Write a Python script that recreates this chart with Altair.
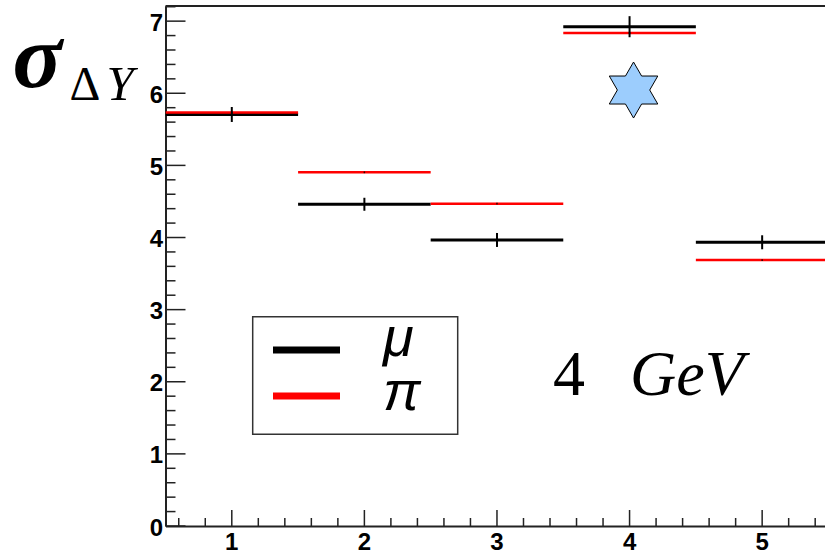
import math
import numpy as np
import pandas as pd
import altair as alt

# ---- data -------------------------------------------------------------
bin_lo = [0.5, 1.5, 2.5, 3.5, 4.5]
bin_hi = [1.5, 2.5, 3.5, 4.5, 5.5]
bin_center = [1, 2, 3, 4, 5]
mu_vals = [5.706, 4.461, 3.966, 6.923, 3.934]
mu_errs = [0.104, 0.090, 0.097, 0.146, 0.097]
pi_vals = [5.733, 4.904, 4.469, 6.836, 3.688]
pi_errs = [0.012, 0.012, 0.012, 0.012, 0.012]

series_names = ["μ", "π"]
series_colors = ["#000000", "#ff0000"]

star_x = [4.03]
star_y = [6.045]

x_tick_labels = [1, 2, 3, 4, 5]
y_tick_labels = [0, 1, 2, 3, 4, 5, 6, 7]

# ---- geometry ----------------------------------------------------------
W, H = 659.5, 520
X_DOM = [0.5, 5.474]
Y_DOM = [0, 7.21]

hist = pd.DataFrame({
    "lo": bin_lo, "hi": bin_hi, "c": bin_center,
    "mu": mu_vals, "mu_lo": [v - e for v, e in zip(mu_vals, mu_errs)],
    "mu_hi": [v + e for v, e in zip(mu_vals, mu_errs)],
    "pi": pi_vals, "pi_lo": [v - e for v, e in zip(pi_vals, pi_errs)],
    "pi_hi": [v + e for v, e in zip(pi_vals, pi_errs)],
})

AX_FONT = "Liberation Sans"
LBL_SIZE = 24
x_scale = alt.Scale(domain=X_DOM, nice=False, zero=False)
y_scale = alt.Scale(domain=Y_DOM, nice=False, zero=False)
x_axis = alt.Axis(values=x_tick_labels, title=None, grid=False, ticks=False,
                  labels=False, domainColor="#222222", domainWidth=2)
y_axis = alt.Axis(values=y_tick_labels, title=None, grid=False, ticks=False,
                  labels=False, domainColor="#222222", domainWidth=2)


def xq(field):
    return alt.X(field, type="quantitative", scale=x_scale, axis=x_axis)


def yq(field):
    return alt.Y(field, type="quantitative", scale=y_scale, axis=y_axis)


one = alt.Data(values=[{"k": 0}])

# histogram steps
mu_steps = alt.Chart(hist).mark_rule(color=series_colors[0], strokeWidth=3, clip=True).encode(
    x=xq("lo"), x2="hi", y=yq("mu"))
pi_steps = alt.Chart(hist).mark_rule(color=series_colors[1], strokeWidth=2.5, clip=True).encode(
    x=xq("lo"), x2="hi", y=yq("pi"))
pi_err = alt.Chart(hist).mark_rule(color="#300000", strokeWidth=1.5).encode(
    x=xq("c"), y=yq("pi_lo"), y2="pi_hi")
mu_err = alt.Chart(hist).mark_rule(color="black", strokeWidth=2).encode(
    x=xq("c"), y=yq("mu_lo"), y2="mu_hi")

# inward ticks
yt = np.round(np.arange(0, Y_DOM[1] + 1e-9, 0.2), 1)
y_major = pd.DataFrame({"v": [v for v in yt if abs(v - round(v)) < 1e-6]})
y_minor = pd.DataFrame({"v": [v for v in yt if abs(v - round(v)) > 1e-6]})
xt = np.round(np.arange(0.6, X_DOM[1], 0.2), 1)
x_major = pd.DataFrame({"v": [v for v in xt if abs(v - round(v)) < 1e-6]})
x_minor = pd.DataFrame({"v": [v for v in xt if abs(v - round(v)) > 1e-6]})

tick_style = dict(color="#222222", strokeWidth=1.5)
ticks = [
    alt.Chart(y_major).mark_rule(**tick_style).encode(y=yq("v"), x=alt.value(0), x2=alt.value(20)),
    alt.Chart(y_minor).mark_rule(**tick_style).encode(y=yq("v"), x=alt.value(0), x2=alt.value(10)),
    alt.Chart(x_major).mark_rule(**tick_style).encode(x=xq("v"), y=alt.value(H), y2=alt.value(H - 16)),
    alt.Chart(x_minor).mark_rule(**tick_style).encode(x=xq("v"), y=alt.value(H), y2=alt.value(H - 8)),
]

# tick labels
lbl_style = dict(font=AX_FONT, fontSize=LBL_SIZE, fontWeight="bold", color="black",
                 baseline="alphabetic")
tick_labels = [
    alt.Chart(pd.DataFrame({"v": y_tick_labels})).mark_text(align="right", dy=9.5, **lbl_style).encode(
        y=yq("v"), x=alt.value(-2.5), text=alt.Text("v:Q", format="d")),
    alt.Chart(pd.DataFrame({"v": x_tick_labels})).mark_text(align="center", **lbl_style).encode(
        x=xq("v"), y=alt.value(H + 23.5), text=alt.Text("v:Q", format="d")),
]

# top frame line
frame_top = alt.Chart(one).mark_rule(color="#222222", strokeWidth=2).encode(
    x=alt.value(0), x2=alt.value(W), y=alt.value(0))

# six-pointed star marker
pts = []
for i in range(12):
    r = 1.0 if i % 2 == 0 else 1 / math.sqrt(3)
    a = math.radians(30 * i)
    pts.append(f"{r * math.sin(a):.4f},{-r * math.cos(a):.4f}")
star_path = "M" + " L".join(pts) + " Z"
star = alt.Chart(pd.DataFrame({"x": star_x, "y": star_y})).mark_point(
    shape=star_path, size=3136, filled=True, fill="#9ccdfd", stroke="black",
    strokeWidth=1, opacity=1).encode(x=xq("x"), y=yq("y"))

# legend box
legend = [
    alt.Chart(one).mark_rect(fill="white", stroke="#333333", strokeWidth=1.5).encode(
        x=alt.value(87.2), x2=alt.value(292.2), y=alt.value(310.7), y2=alt.value(428.3)),
]
for name, col, ly, ty in zip(series_names, series_colors, [344, 390], [350, 404]):
    legend.append(alt.Chart(one).mark_rule(color=col, strokeWidth=7).encode(
        x=alt.value(107.5), x2=alt.value(174.5), y=alt.value(ly)))
    legend.append(alt.Chart(one).mark_text(
        text=name, font="Liberation Sans", fontStyle="italic", fontSize=56,
        align="left", baseline="alphabetic", color="black").encode(
        x=alt.value(217.5), y=alt.value(ty)))

# y title: sigma_{ΔY}
serif = "Liberation Serif"
labels = [
    alt.Chart(one).mark_text(text="σ", font=serif, fontWeight="bold", fontStyle="italic",
                             fontSize=92, align="left", baseline="alphabetic",
                             color="black").encode(
        x=alt.value(-153), y=alt.value(81)),
    alt.Chart(one).mark_text(text="Δ", font=serif, fontSize=48,
                             align="left", baseline="alphabetic", color="black").encode(
        x=alt.value(-96), y=alt.value(94)),
    alt.Chart(one).mark_text(text="Y", font=serif, fontStyle="italic", fontSize=49,
                             align="left", baseline="alphabetic", color="black").encode(
        x=alt.value(-59), y=alt.value(94)),
    alt.Chart(one).mark_text(text="4", font=serif, fontSize=64,
                             align="left", baseline="alphabetic", color="black").encode(
        x=alt.value(387.5), y=alt.value(389)),
    alt.Chart(one).mark_text(text="GeV", font=serif, fontStyle="italic", fontSize=64,
                             align="left", baseline="alphabetic", color="black").encode(
        x=alt.value(464.5), y=alt.value(389)),
]

chart = alt.layer(
    mu_steps, pi_steps, pi_err, mu_err, *ticks, *tick_labels, frame_top, star,
    *legend, *labels
).properties(
    width=W, height=H,
    autosize=alt.AutoSizeParams(type="none"),
    padding={"left": 165.5, "top": 6, "right": 0, "bottom": 27},
    background="white",
).configure_view(stroke=None)

chart.save("out.html", embed_options={"renderer": "svg", "actions": False})
